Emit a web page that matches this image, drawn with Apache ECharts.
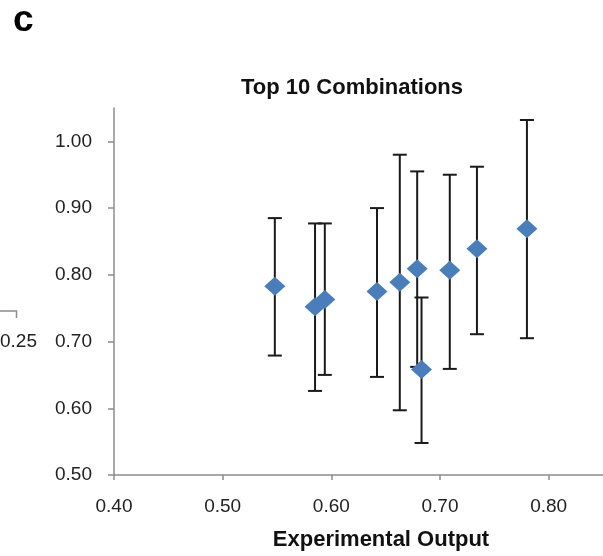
<!DOCTYPE html>
<html>
<head>
<meta charset="utf-8">
<script src="https://cdn.jsdelivr.net/npm/echarts@6/dist/echarts.min.js"></script>
<style>
html,body{margin:0;padding:0;background:#fff;}
#chart{width:603px;height:556px;}
</style>
</head>
<body>
<div id="chart"></div>
<script>
// Data
var xVals = [0.548, 0.585, 0.594, 0.642, 0.663, 0.679, 0.683, 0.709, 0.734, 0.780];
var yVals = [0.783, 0.752, 0.763, 0.775, 0.789, 0.809, 0.658, 0.807, 0.839, 0.869];
var yHigh = [0.885, 0.877, 0.877, 0.900, 0.980, 0.955, 0.766, 0.950, 0.962, 1.032];
var yLow  = [0.679, 0.626, 0.650, 0.647, 0.597, 0.662, 0.548, 0.659, 0.711, 0.705];
var xTicks = [0.40, 0.50, 0.60, 0.70, 0.80];
var yTicks = [0.50, 0.60, 0.70, 0.80, 0.90, 1.00];
var chartTitle = 'Top 10 Combinations';
var xTitle = 'Experimental Output';
var panelLetter = 'c';
var neighbourLabel = '0.25';

var FONT = '"Liberation Sans", Arial, sans-serif';
var points = xVals.map(function (x, i) { return [x, yVals[i]]; });
var bars = xVals.map(function (x, i) { return [x, yLow[i], yHigh[i]]; });

var chart = echarts.init(document.getElementById('chart'), null, {renderer: 'canvas'});
chart.setOption({
  backgroundColor: '#ffffff',
  animation: false,
  title: {
    text: chartTitle,
    left: 347,
    textAlign: 'center',
    top: 72,
    textStyle: {fontFamily: FONT, fontWeight: 'bold', fontSize: 22, color: '#111'}
  },
  grid: {left: 114, right: 0, top: 108, bottom: 81, containLabel: false},
  xAxis: {
    type: 'value', min: 0.40, max: 0.85, interval: 0.05,
    axisLine: {show: true, lineStyle: {color: '#8c8c8c', width: 1.5}},
    axisTick: {show: true, length: 5, customValues: xTicks, lineStyle: {color: '#8c8c8c', width: 1.5}},
    axisLabel: {customValues: xTicks, margin: 22, fontFamily: FONT, fontSize: 19, color: '#222',
      formatter: function (v) { return v.toFixed(2); }},
    splitLine: {show: false}
  },
  yAxis: {
    type: 'value', min: 0.50, max: 1.05, interval: 0.05,
    axisLine: {show: true, lineStyle: {color: '#8c8c8c', width: 1.5}},
    axisTick: {show: true, length: 6, customValues: yTicks, lineStyle: {color: '#8c8c8c', width: 1.5}},
    axisLabel: {customValues: yTicks, margin: 22, fontFamily: FONT, fontSize: 19, color: '#222',
      formatter: function (v) { return v.toFixed(2); }},
    splitLine: {show: false}
  },
  graphic: [
    {type: 'text', left: 13, top: 2, style: {text: panelLetter, font: 'bold 37px ' + FONT, fill: '#000'}},
    {type: 'text', x: 381, y: 540, style: {text: xTitle, font: 'bold 22px ' + FONT, fill: '#111', textAlign: 'center', textVerticalAlign: 'middle'}},
    {type: 'text', x: 37, y: 342, style: {text: neighbourLabel, font: '19px ' + FONT, fill: '#222', textAlign: 'right', textVerticalAlign: 'middle'}},
    {type: 'polyline', shape: {points: [[0, 311], [16.5, 311], [16.5, 318]]}, style: {stroke: '#8c8c8c', lineWidth: 1.5, fill: null}}
  ],
  series: [
    {
      type: 'custom',
      z: 2,
      data: bars,
      encode: {x: 0, y: [1, 2]},
      renderItem: function (params, api) {
        var x = api.value(0);
        var lo = api.coord([x, api.value(1)]);
        var hi = api.coord([x, api.value(2)]);
        var cw = 7;
        var st = {stroke: '#1a1a1a', lineWidth: 2};
        return {
          type: 'group',
          children: [
            {type: 'line', shape: {x1: lo[0], y1: lo[1], x2: hi[0], y2: hi[1]}, style: st},
            {type: 'line', shape: {x1: hi[0] - cw, y1: hi[1], x2: hi[0] + cw, y2: hi[1]}, style: st},
            {type: 'line', shape: {x1: lo[0] - cw, y1: lo[1], x2: lo[0] + cw, y2: lo[1]}, style: st}
          ]
        };
      }
    },
    {
      type: 'scatter',
      z: 5,
      data: points,
      symbol: 'diamond',
      symbolSize: [21, 19],
      itemStyle: {color: '#4a7ebb', opacity: 1}
    }
  ]
});
</script>
</body>
</html>
